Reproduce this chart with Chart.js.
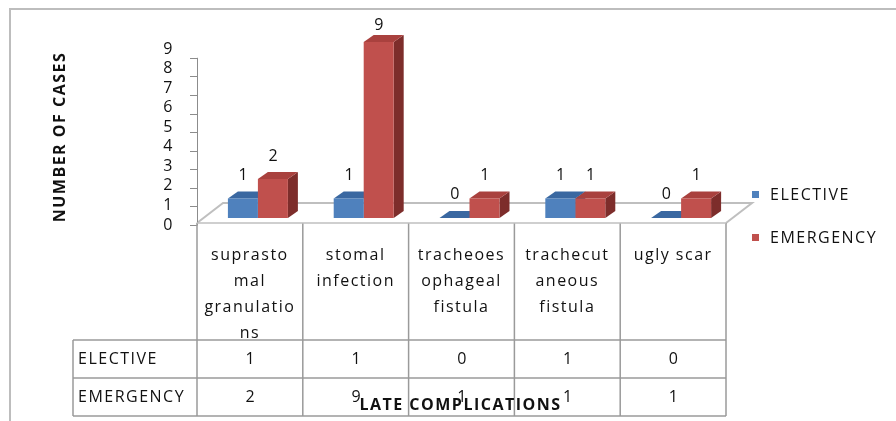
<!DOCTYPE html>
<html>
<head>
<meta charset="utf-8">
<script src="https://cdn.jsdelivr.net/npm/chart.js@4/dist/chart.umd.min.js"></script>
<style>
  html, body { margin: 0; padding: 0; background: #fff; }
  canvas { display: block; }
</style>
</head>
<body>
<canvas id="chart" width="896" height="421"></canvas>
<script>
// Late complications by type of tracheostomy
const categories = [
  ['suprasto', 'mal', 'granulatio', 'ns'],
  ['stomal', 'infection'],
  ['tracheoes', 'ophageal', 'fistula'],
  ['trachecut', 'aneous', 'fistula'],
  ['ugly scar']
];
const seriesNames = ['ELECTIVE', 'EMERGENCY'];
const elective = [1, 1, 0, 1, 0];
const emergency = [2, 9, 1, 1, 1];
const yTicks = [0, 1, 2, 3, 4, 5, 6, 7, 8, 9];
const yTitle = 'NUMBER OF CASES';
const xTitle = 'LATE COMPLICATIONS';

// look
const FONT = "'Open Sans', sans-serif";
const FSIZE = 16;
const SPACING = '1.5px';
const TEXT = '#111';
const GRID = '#9a9a9a';
const FLOOR = '#bfbfbf';
const SHIFT = 8;                       // bars sit a little right of the table grid (3D depth)
const BAR_D = { dx: 10, dy: -7 };      // depth of each bar
const FLOOR_D = { dx: 26, dy: -20 };   // depth of the floor
const FLOOR_FRONT = 5;                 // floor front edge below the bar base

function poly(ctx, pts, fill) {
  ctx.beginPath();
  ctx.moveTo(pts[0][0], pts[0][1]);
  for (let i = 1; i < pts.length; i++) ctx.lineTo(pts[i][0], pts[i][1]);
  ctx.closePath();
  ctx.fillStyle = fill;
  ctx.fill();
}

const bars3d = {
  id: 'bars3d',
  beforeDraw(chart) {
    const { ctx, width, height } = chart;
    const xs = chart.scales.x, ys = chart.scales.y;
    ctx.save();
    ctx.fillStyle = '#fff';
    ctx.fillRect(0, 0, width, height);
    // outer frame
    ctx.strokeStyle = '#bdbdbd';
    ctx.lineWidth = 2;
    ctx.beginPath();
    ctx.moveTo(10, height); ctx.lineTo(10, 9); ctx.lineTo(width, 9);
    ctx.stroke();

    // floor
    const y0 = ys.getPixelForValue(0);
    const fl = xs.left - SHIFT, fr = xs.right - SHIFT, ff = y0 + FLOOR_FRONT;
    ctx.strokeStyle = FLOOR;
    ctx.lineWidth = 2;
    ctx.beginPath();
    ctx.moveTo(fl, ff);
    ctx.lineTo(fl + FLOOR_D.dx, ff + FLOOR_D.dy);
    ctx.lineTo(fr + FLOOR_D.dx, ff + FLOOR_D.dy);
    ctx.lineTo(fr, ff);
    ctx.stroke();

    // value axis with its tick marks (front edge, slightly compressed by perspective)
    const ax = fl;
    const axisY = v => ff + 2 + (ys.getPixelForValue(v) - y0) * 0.95;
    ctx.strokeStyle = '#8c8c8c';
    ctx.lineWidth = 1;
    ctx.beginPath();
    ctx.moveTo(ax + 0.5, axisY(yTicks[0]));
    ctx.lineTo(ax + 0.5, axisY(yTicks[yTicks.length - 1]));
    yTicks.forEach(v => {
      const y = Math.round(axisY(v)) + 0.5;
      ctx.moveTo(ax - 7, y); ctx.lineTo(ax + 0.5, y);
    });
    ctx.stroke();
    ctx.restore();
    ctx.letterSpacing = SPACING;
  },
  beforeDatasetsDraw(chart) {
    const { ctx } = chart;
    ctx.save();
    const metas = chart.data.datasets.map((d, i) => chart.getDatasetMeta(i));
    for (let c = 0; c < categories.length; c++) {
      metas.forEach((meta, i) => {
        const ds = chart.data.datasets[i];
        const el = meta.data[c];
        const l = el.x - el.width / 2, r = el.x + el.width / 2;
        const t = el.y, b = el.base;
        poly(ctx, [[r, t], [r + BAR_D.dx, t + BAR_D.dy], [r + BAR_D.dx, b + BAR_D.dy], [r, b]], ds.sideColor);
        poly(ctx, [[l, t], [r, t], [r + BAR_D.dx, t + BAR_D.dy], [l + BAR_D.dx, t + BAR_D.dy]], ds.topColor);
      });
    }
    ctx.restore();
  },
  afterDatasetsDraw(chart) {
    const { ctx } = chart;
    const y0 = chart.scales.y.getPixelForValue(0);
    ctx.save();
    ctx.letterSpacing = SPACING;
    ctx.font = FSIZE + 'px ' + FONT;
    ctx.fillStyle = TEXT;
    ctx.textAlign = 'center';
    ctx.textBaseline = 'middle';
    chart.data.datasets.forEach((ds, i) => {
      chart.getDatasetMeta(i).data.forEach((el, j) => {
        // value label above the bar top, drawing slightly closer on tall bars
        const y = el.y - 24 + (y0 - el.y) * 0.04;
        ctx.fillText(String(ds.data[j]), el.x + 1, y);
      });
    });
    ctx.restore();
  },
  afterDraw(chart) {
    const { ctx, chartArea } = chart;
    const xs = chart.scales.x, ys = chart.scales.y;
    const y0 = ys.getPixelForValue(0);
    const colW = (xs.right - xs.left) / categories.length;
    const tl = xs.left - SHIFT, tr = xs.right - SHIFT;
    const top = y0 + FLOOR_FRONT;
    const rowTops = [340, 378];
    const bottom = 416;
    const labelLeft = 73;
    ctx.save();
    ctx.letterSpacing = SPACING;

    // body rows of the data table
    ctx.fillStyle = '#fff';
    ctx.fillRect(labelLeft, rowTops[0] + 1, tr - labelLeft, bottom - rowTops[0] - 1);
    ctx.strokeStyle = GRID;
    ctx.lineWidth = 1.5;
    ctx.beginPath();
    ctx.moveTo(tl, top); ctx.lineTo(tl, bottom);
    for (let c = 1; c <= categories.length; c++) {
      const x = tl + c * colW;
      ctx.moveTo(x, top); ctx.lineTo(x, bottom);
    }
    ctx.moveTo(labelLeft, rowTops[0]); ctx.lineTo(labelLeft, bottom);
    rowTops.concat([bottom]).forEach(y => { ctx.moveTo(labelLeft, y); ctx.lineTo(tr, y); });
    ctx.stroke();
    ctx.strokeStyle = FLOOR;
    ctx.beginPath();
    ctx.moveTo(tl, top); ctx.lineTo(tr, top);
    ctx.stroke();

    ctx.font = FSIZE + 'px ' + FONT;
    ctx.fillStyle = TEXT;
    ctx.textBaseline = 'middle';
    [elective, emergency].forEach((vals, r) => {
      const yc = (rowTops[r] + (r + 1 < rowTops.length ? rowTops[r + 1] : bottom)) / 2;
      ctx.textAlign = 'left';
      ctx.fillText(seriesNames[r], labelLeft + 5, yc);
      ctx.textAlign = 'center';
      vals.forEach((v, c) => ctx.fillText(String(v), tl + (c + 0.5) * colW + 1, yc));
    });

    // legend
    chart.data.datasets.forEach((ds, i) => {
      const bx = chartArea.right + 18;
      const by = 195 + i * 43;
      ctx.fillStyle = ds.backgroundColor;
      ctx.fillRect(bx, by - 4, 7, 7);
      ctx.fillStyle = TEXT;
      ctx.textAlign = 'left';
      ctx.fillText(ds.label, bx + 18, by);
    });

    // axis titles
    ctx.font = 'bold ' + FSIZE + 'px ' + FONT;
    ctx.textAlign = 'center';
    ctx.fillText(xTitle, (tl + tr) / 2 - 1, 405);
    ctx.translate(60, 137);
    ctx.rotate(-Math.PI / 2);
    ctx.fillText(yTitle, 0, 0);
    ctx.restore();
  }
};

new Chart(document.getElementById('chart'), {
  type: 'bar',
  data: {
    labels: categories,
    datasets: [
      { label: seriesNames[0], data: elective, backgroundColor: '#4F81BD', topColor: '#3A68A1', sideColor: '#2C5283' },
      { label: seriesNames[1], data: emergency, backgroundColor: '#C0504D', topColor: '#A9413E', sideColor: '#7D2D2B' }
    ]
  },
  options: {
    responsive: false,
    animation: false,
    events: [],
    categoryPercentage: 0.567,
    barPercentage: 1,
    layout: { padding: { top: 42, right: 162, bottom: 0, left: 0 } },
    plugins: { legend: { display: false }, tooltip: { enabled: false } },
    scales: {
      x: {
        grid: { display: false, drawTicks: false },
        border: { display: false },
        ticks: {
          autoSkip: false, maxRotation: 0, minRotation: 0,
          padding: 24, labelOffset: -SHIFT, color: TEXT,
          font: { family: FONT, size: FSIZE, lineHeight: '26px' }
        },
        afterFit: s => { s.height = 203; }
      },
      y: {
        min: 0, max: 9,
        grid: { display: false, drawTicks: false },
        border: { display: false },
        afterBuildTicks: s => { s.ticks = yTicks.map(v => ({ value: v })); },
        ticks: { autoSkip: false, padding: 31, labelOffset: 7, color: TEXT, font: { family: FONT, size: FSIZE } },
        afterFit: s => { s.width = 205; }
      }
    }
  },
  plugins: [bars3d]
});
</script>
</body>
</html>
